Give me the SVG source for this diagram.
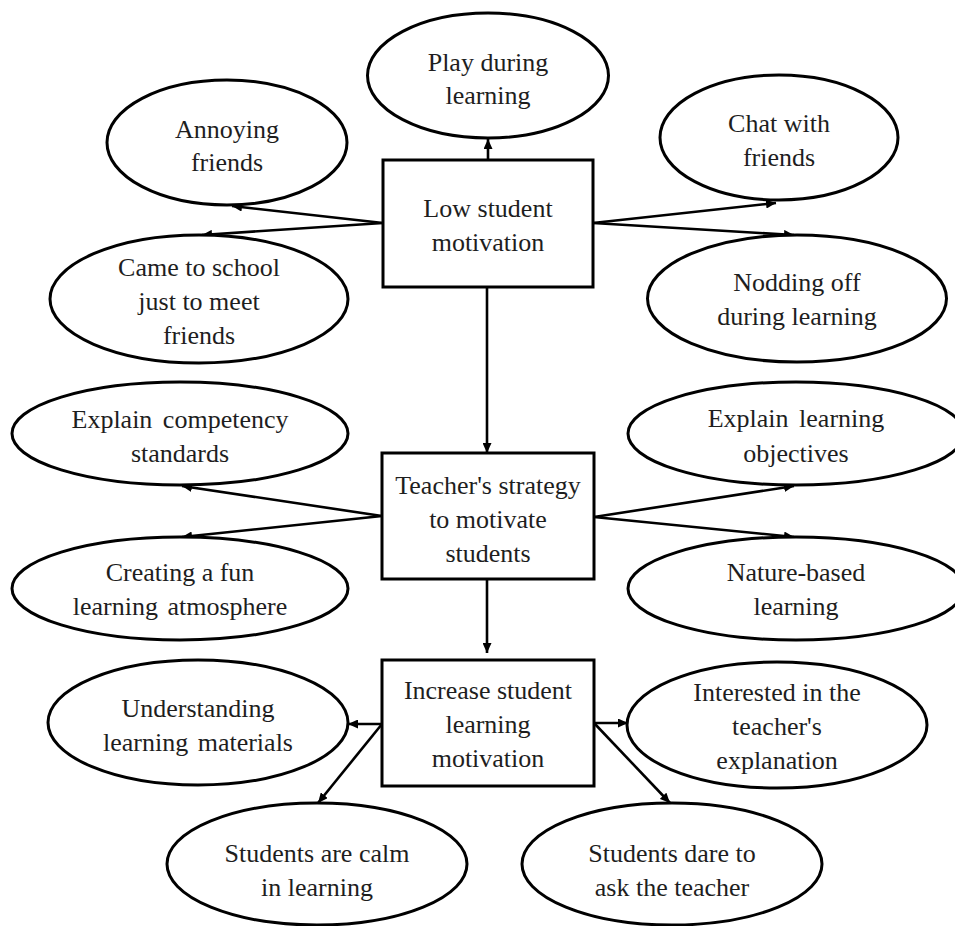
<svg xmlns="http://www.w3.org/2000/svg" width="955" height="926" viewBox="0 0 955 926">
  <style>
    .shape { fill: #ffffff; stroke: #000000; stroke-width: 3; }
    .label { font-family: "Liberation Serif", "Times New Roman", serif; font-size: 26px; fill: #1e1e1e; text-anchor: middle; }
    .link { fill: none; stroke: #000000; stroke-width: 2.6; marker-end: url(#arrow); }
  </style>
  <defs>
    <marker id="arrow" markerUnits="userSpaceOnUse" markerWidth="11" markerHeight="9" refX="10" refY="4.5" orient="auto">
      <path d="M0,0 L10,4.5 L0,9 z" fill="#000000"/>
    </marker>
  </defs>
  <rect width="955" height="926" fill="#ffffff"/>

  <!-- connectors -->
  <g id="connectors">
    <line class="link" x1="488" y1="160" x2="488" y2="139"/>
    <line class="link" x1="383" y1="223" x2="232" y2="206"/>
    <line class="link" x1="383" y1="223" x2="202" y2="235"/>
    <line class="link" x1="593" y1="223" x2="776" y2="203"/>
    <line class="link" x1="593" y1="223" x2="794" y2="235"/>
    <line class="link" x1="487" y1="287" x2="487" y2="453"/>
    <line class="link" x1="382" y1="516" x2="182" y2="486"/>
    <line class="link" x1="382" y1="516" x2="182" y2="537"/>
    <line class="link" x1="594" y1="517" x2="794" y2="486"/>
    <line class="link" x1="594" y1="517" x2="794" y2="537"/>
    <line class="link" x1="487" y1="579" x2="487" y2="653"/>
    <line class="link" x1="382" y1="724" x2="348" y2="724"/>
    <line class="link" x1="382" y1="724" x2="318" y2="803"/>
    <line class="link" x1="594" y1="723" x2="628" y2="723"/>
    <line class="link" x1="594" y1="723" x2="670" y2="803"/>
  </g>

  <!-- central boxes -->
  <g id="low-motivation">
    <rect class="shape" x="383" y="160" width="210" height="127"/>
    <text class="label" x="488" y="217">Low student</text>
    <text class="label" x="488" y="251">motivation</text>
  </g>
  <g id="teacher-strategy">
    <rect class="shape" x="382" y="453" width="212" height="126"/>
    <text class="label" x="488" y="494">Teacher's strategy</text>
    <text class="label" x="488" y="528">to motivate</text>
    <text class="label" x="488" y="562">students</text>
  </g>
  <g id="increase-motivation">
    <rect class="shape" x="382" y="660" width="212" height="126"/>
    <text class="label" x="488" y="699">Increase student</text>
    <text class="label" x="488" y="733">learning</text>
    <text class="label" x="488" y="767">motivation</text>
  </g>

  <!-- symptoms of low motivation -->
  <g id="play-during-learning">
    <ellipse class="shape" cx="488" cy="75.5" rx="120.5" ry="62.5"/>
    <text class="label" x="488" y="71">Play during</text>
    <text class="label" x="488" y="104">learning</text>
  </g>
  <g id="annoying-friends">
    <ellipse class="shape" cx="227" cy="142.5" rx="120" ry="62.5"/>
    <text class="label" x="227" y="138">Annoying</text>
    <text class="label" x="227" y="171">friends</text>
  </g>
  <g id="chat-with-friends">
    <ellipse class="shape" cx="779" cy="137.5" rx="119" ry="62.5"/>
    <text class="label" x="779" y="132">Chat with</text>
    <text class="label" x="779" y="166">friends</text>
  </g>
  <g id="came-to-meet-friends">
    <ellipse class="shape" cx="199" cy="299" rx="149" ry="64"/>
    <text class="label" x="199" y="276">Came to school</text>
    <text class="label" x="199" y="310">just to meet</text>
    <text class="label" x="199" y="344">friends</text>
  </g>
  <g id="nodding-off">
    <ellipse class="shape" cx="797" cy="298.5" rx="149.5" ry="63.5"/>
    <text class="label" x="797" y="291">Nodding off</text>
    <text class="label" x="797" y="325">during learning</text>
  </g>

  <!-- teacher strategies -->
  <g id="explain-competency">
    <ellipse class="shape" cx="180" cy="433.5" rx="168" ry="51.5"/>
    <text class="label" x="180" y="428" word-spacing="4">Explain competency</text>
    <text class="label" x="180" y="462">standards</text>
  </g>
  <g id="explain-objectives">
    <ellipse class="shape" cx="796" cy="433.5" rx="168" ry="51.5"/>
    <text class="label" x="796" y="427" word-spacing="4">Explain learning</text>
    <text class="label" x="796" y="462">objectives</text>
  </g>
  <g id="fun-atmosphere">
    <ellipse class="shape" cx="180" cy="588.5" rx="168" ry="51.5"/>
    <text class="label" x="180" y="581">Creating a fun</text>
    <text class="label" x="180" y="615" word-spacing="3">learning atmosphere</text>
  </g>
  <g id="nature-based">
    <ellipse class="shape" cx="796" cy="588.5" rx="168" ry="51.5"/>
    <text class="label" x="796" y="581">Nature-based</text>
    <text class="label" x="796" y="615">learning</text>
  </g>

  <!-- outcomes -->
  <g id="understanding-materials">
    <ellipse class="shape" cx="198" cy="722.5" rx="150" ry="62.5"/>
    <text class="label" x="198" y="717">Understanding</text>
    <text class="label" x="198" y="751" word-spacing="3">learning materials</text>
  </g>
  <g id="interested-explanation">
    <ellipse class="shape" cx="777" cy="725" rx="150" ry="63"/>
    <text class="label" x="777" y="701">Interested in the</text>
    <text class="label" x="777" y="735">teacher's</text>
    <text class="label" x="777" y="769">explanation</text>
  </g>
  <g id="students-calm">
    <ellipse class="shape" cx="317" cy="864" rx="150" ry="61"/>
    <text class="label" x="317" y="862">Students are calm</text>
    <text class="label" x="317" y="896">in learning</text>
  </g>
  <g id="students-dare">
    <ellipse class="shape" cx="672" cy="864" rx="150" ry="61"/>
    <text class="label" x="672" y="862">Students dare to</text>
    <text class="label" x="672" y="896">ask the teacher</text>
  </g>
</svg>
